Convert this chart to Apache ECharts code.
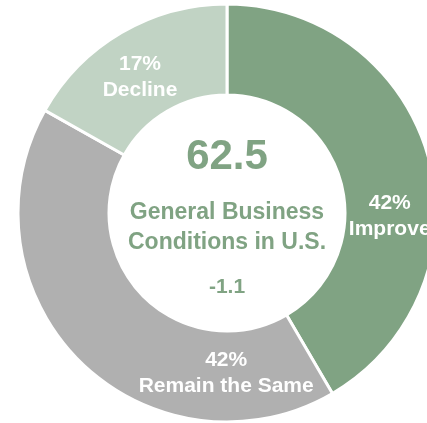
<!DOCTYPE html>
<html>
<head>
<meta charset="utf-8">
<script src="https://cdn.jsdelivr.net/npm/echarts@6/dist/echarts.min.js"></script>
<style>
  html, body { margin: 0; padding: 0; background: #fff; }
  #chart { width: 427px; height: 423px; }
</style>
</head>
<body>
<div id="chart"></div>
<script>
// survey answers, clockwise from 12 o'clock
const categories = ['Improve', 'Remain the Same', 'Decline']
const shares = [42, 42, 17]
const sliceColors = ['#80a383', '#b0b0b0', '#c1d3c4']

// text in the hole
const headline = '62.5'
const subtitle = ['General Business', 'Conditions in U.S.']
const change = '-1.1'

// labels were nudged by hand in the original
const labelShift = [[2, 47], [116, 42], [-3, 8]]

const green = '#80a383'
const font = 'Liberation Sans, Arial, sans-serif'

const chart = echarts.init(document.getElementById('chart'), null, { renderer: 'canvas' })

chart.setOption({
  animation: false,
  color: sliceColors,
  series: [
    {
      type: 'pie',
      center: [227, 213],
      radius: [118, 209],
      startAngle: 90,
      clockwise: true,
      avoidLabelOverlap: false,
      itemStyle: { borderColor: '#fff', borderWidth: 3 },
      label: {
        show: true,
        position: 'inside',
        formatter: '{c}%\n{b}',
        color: '#fff',
        fontFamily: font,
        fontWeight: 'bold',
        fontSize: 21,
        lineHeight: 26,
      },
      labelLine: { show: false },
      labelLayout: p => ({ dx: labelShift[p.dataIndex][0], dy: labelShift[p.dataIndex][1] }),
      emphasis: { disabled: true },
      data: categories.map((name, i) => ({ name, value: shares[i] })),
    },
  ],
  graphic: [
    {
      type: 'text', x: 227, y: 157,
      style: { text: headline, fill: green, font: `bold 42px ${font}`, align: 'center', verticalAlign: 'middle' },
    },
    {
      type: 'text', x: 227, y: 228,
      style: {
        text: subtitle.join('\n'), fill: green, font: `bold 23px ${font}`, lineHeight: 30,
        align: 'center', verticalAlign: 'middle',
      },
    },
    {
      type: 'text', x: 227, y: 287,
      style: { text: change, fill: green, font: `bold 21px ${font}`, align: 'center', verticalAlign: 'middle' },
    },
  ],
})
</script>
</body>
</html>
